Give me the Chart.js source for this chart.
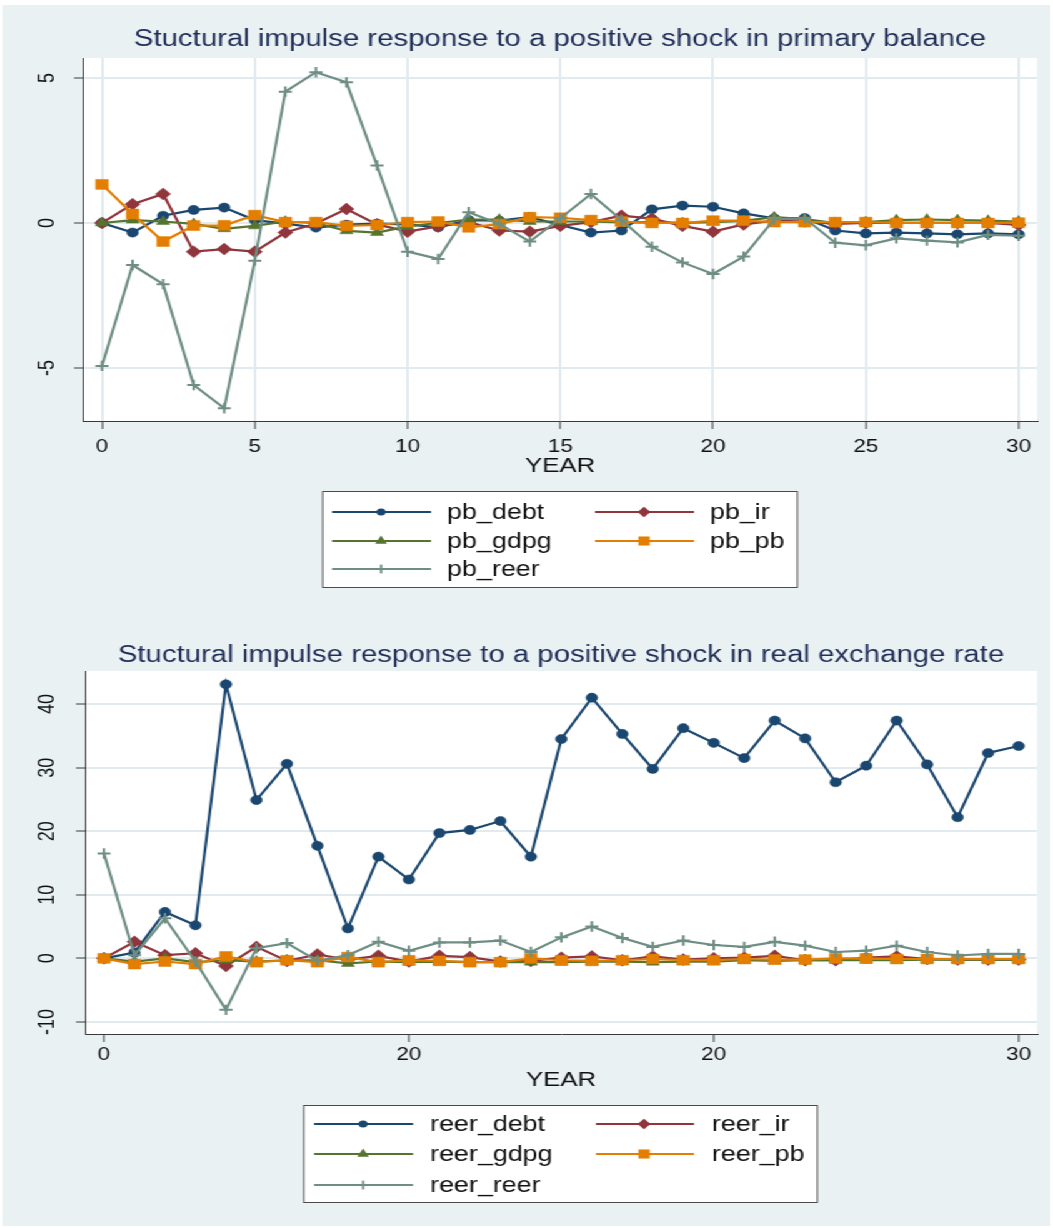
<!DOCTYPE html>
<html>
<head>
<meta charset="utf-8">
<title>Structural impulse responses</title>
<script src="https://cdn.jsdelivr.net/npm/chart.js@4.4.1/dist/chart.umd.min.js"></script>
<style>
  html, body { margin: 0; padding: 0; background: #ffffff; width: 1053px; height: 1228px; overflow: hidden; }
  /* the graphs are laid out on a narrower stage and widened horizontally */
  #stage { position: absolute; left: 0; top: 0; width: 842.4px; height: 1228px; transform: scaleX(1.25); transform-origin: 0 0; }
  #panel { position: absolute; left: 2px; top: 5px; width: 838px; height: 1221px; background: #eaf1f3; }
  canvas { position: absolute; left: 2px; }
  #c1 { top: 5px; }
  #c2 { top: 612px; }
</style>
</head>
<body>
<div id="stage">
  <div id="panel"></div>
  <canvas id="c1" width="838" height="607"></canvas>
  <canvas id="c2" width="838" height="613"></canvas>
</div>
<script>
// ---- data -------------------------------------------------------------
const YEARS = [0,1,2,3,4,5,6,7,8,9,10,11,12,13,14,15,16,17,18,19,20,21,22,23,24,25,26,27,28,29,30];

// responses to a shock in primary balance
const PB_DEBT = [0, -0.33, 0.25, 0.45, 0.53, 0.1, -0.02, -0.16, -0.06, -0.02, -0.05, -0.15, 0.1, 0.08, 0.2, -0.07, -0.33, -0.26, 0.47, 0.6, 0.56, 0.33, 0.16, 0.17, -0.26, -0.36, -0.33, -0.36, -0.39, -0.36, -0.39];
const PB_IR   = [0, 0.65, 1.0, -0.99, -0.9, -0.99, -0.33, -0.02, 0.48, -0.05, -0.3, -0.12, 0.03, -0.26, -0.3, -0.1, 0.03, 0.25, 0.15, -0.1, -0.3, -0.05, 0.08, 0.05, -0.03, 0, 0, 0, 0, 0, -0.07];
const PB_GDPG = [0, 0.1, 0.05, -0.03, -0.2, -0.1, 0.05, 0, -0.27, -0.33, -0.12, 0, 0.12, 0.12, 0.05, 0.05, 0.05, 0.02, 0.03, 0, 0.03, 0.07, 0.2, 0.13, 0, 0.03, 0.1, 0.12, 0.1, 0.08, 0.05];
const PB_PB   = [1.33, 0.31, -0.64, -0.09, -0.08, 0.27, 0.03, 0.03, -0.1, -0.07, 0.03, 0.05, -0.15, -0.04, 0.2, 0.18, 0.1, 0.05, 0, 0, 0.08, 0.08, 0.03, 0.03, 0.03, 0.03, 0, 0, 0, 0, 0.01];
const PB_REER = [-4.93, -1.45, -2.11, -5.59, -6.39, -1.3, 4.53, 5.2, 4.85, 1.98, -0.99, -1.24, 0.37, -0.03, -0.64, 0.16, 1.0, 0.1, -0.82, -1.36, -1.76, -1.16, 0.13, 0.16, -0.68, -0.77, -0.53, -0.61, -0.67, -0.41, -0.44];

// responses to a shock in the real exchange rate
const REER_DEBT = [0, 0.9, 7.3, 5.2, 43.1, 24.9, 30.6, 17.7, 4.7, 16.0, 12.4, 19.7, 20.2, 21.6, 16.0, 34.5, 41.0, 35.3, 29.8, 36.2, 33.9, 31.5, 37.4, 34.6, 27.7, 30.3, 37.4, 30.5, 22.2, 32.3, 33.4];
const REER_IR   = [0, 2.6, 0.5, 0.8, -1.2, 1.8, -0.4, 0.6, -0.2, 0.4, -0.5, 0.4, 0.2, -0.5, -0.4, 0.1, 0.3, -0.3, 0.3, -0.2, 0, 0.1, 0.4, -0.3, -0.3, 0.1, 0.3, -0.1, -0.2, -0.2, -0.2];
const REER_GDPG = [0, -0.5, 0, -0.6, -0.3, -0.5, -0.3, -0.3, -0.8, -0.5, -0.6, -0.5, -0.6, -0.6, -0.6, -0.6, -0.5, -0.5, -0.6, -0.5, -0.5, -0.3, -0.4, -0.3, -0.3, -0.3, -0.3, -0.2, -0.2, -0.2, -0.2];
const REER_PB   = [0, -0.9, -0.5, -0.9, 0.3, -0.6, -0.3, -0.6, 0.2, -0.6, -0.3, -0.4, -0.6, -0.6, 0, -0.3, -0.4, -0.3, -0.1, -0.3, -0.3, -0.1, -0.2, -0.2, 0, 0, -0.1, -0.1, -0.1, -0.1, -0.1];
const REER_REER = [16.5, 0.5, 6.3, -0.5, -8.1, 1.6, 2.4, -0.4, 0.5, 2.6, 1.2, 2.5, 2.5, 2.8, 1.0, 3.3, 5.0, 3.2, 1.8, 2.8, 2.1, 1.8, 2.6, 2.0, 1.0, 1.2, 2.0, 1.0, 0.45, 0.7, 0.7];

const PB_LABELS   = ['pb_debt', 'pb_ir', 'pb_gdpg', 'pb_pb', 'pb_reer'];
const REER_LABELS = ['reer_debt', 'reer_ir', 'reer_gdpg', 'reer_pb', 'reer_reer'];

// axis ticks
const X1_TICKS = [0, 5, 10, 15, 20, 25, 30];
const X1_TICK_LABELS = ['0', '5', '10', '15', '20', '25', '30'];
const Y1_TICKS = [-5, 0, 5];
const X2_TICKS = [0, 10, 20, 30];
const X2_TICK_LABELS = ['0', '20', '20', '30'];
const Y2_TICKS = [-10, 0, 10, 20, 30, 40];

const TITLE1 = 'Stuctural impulse response to a positive shock in primary balance';
const TITLE2 = 'Stuctural impulse response to a positive shock in real exchange rate';
const X_TITLE = 'YEAR';

// ---- styling ------------------------------------------------------------
const FONT = "'Liberation Sans', Arial, Helvetica, sans-serif";
const SERIES_STYLE = [
  { color: '#1a476f', point: 'circle',   r: 4.6, lr: 3.6 },
  { color: '#90353b', point: 'rectRot',  r: 6.0, lr: 5.2 },
  { color: '#55752f', point: 'triangle', r: 6.0, lr: 5.4 },
  { color: '#e37e00', point: 'rect',     r: 7.0, lr: 6.4 },
  { color: '#6e8e84', point: 'cross',    r: 5.2, lr: 4.4 }
];
const GRID = '#e1eaee';
const AXIS = '#3a3a3a';

function buildDatasets(labels, seriesList) {
  return seriesList.map((vals, i) => {
    const st = SERIES_STYLE[i];
    return {
      label: labels[i],
      data: YEARS.map((yr, k) => ({ x: yr, y: vals[k] })),
      borderColor: st.color,
      backgroundColor: st.color,
      borderWidth: 2.2,
      pointStyle: st.point,
      pointRadius: st.r,
      pointBorderWidth: st.point === 'cross' ? 2 : 0.5,
      pointBorderColor: st.color,
      pointBackgroundColor: st.color,
      tension: 0,
      order: seriesList.length - i, // later series sit on top
      clip: false
    };
  });
}

function drawMarker(ctx, style, x, y, r, color) {
  ctx.save();
  ctx.fillStyle = color;
  ctx.strokeStyle = color;
  ctx.beginPath();
  if (style === 'circle') {
    ctx.arc(x, y, r, 0, Math.PI * 2);
    ctx.fill();
  } else if (style === 'rectRot') {
    ctx.moveTo(x, y - r); ctx.lineTo(x + r, y); ctx.lineTo(x, y + r); ctx.lineTo(x - r, y);
    ctx.closePath(); ctx.fill();
  } else if (style === 'triangle') {
    for (let k = 0; k < 3; k++) {
      const a = k * 2 * Math.PI / 3;
      const px = x + Math.sin(a) * r, py = y - Math.cos(a) * r;
      if (k === 0) ctx.moveTo(px, py); else ctx.lineTo(px, py);
    }
    ctx.closePath(); ctx.fill();
  } else if (style === 'rect') {
    const h = r * Math.SQRT1_2;
    ctx.rect(x - h, y - h, 2 * h, 2 * h); ctx.fill();
  } else if (style === 'cross') {
    ctx.lineWidth = 1.8;
    ctx.moveTo(x, y - r); ctx.lineTo(x, y + r);
    ctx.stroke();
  }
  ctx.restore();
}

// white plot region
const plotBackground = {
  id: 'plotBackground',
  beforeDraw(chart) {
    const { ctx, chartArea: a } = chart;
    ctx.save();
    ctx.fillStyle = '#ffffff';
    ctx.fillRect(a.left, a.top, a.right - a.left, a.bottom - a.top);
    ctx.restore();
  }
};

// title, rotated y labels and the boxed legend
function decorations(cfg) {
  return {
    id: 'decorations',
    afterDraw(chart) {
      const { ctx, chartArea: a } = chart;
      ctx.save();
      // title
      ctx.font = `23.5px ${FONT}`;
      ctx.fillStyle = '#1f2d57';
      ctx.textAlign = 'center';
      ctx.textBaseline = 'alphabetic';
      ctx.fillText(cfg.title, (a.left + a.right) / 2, cfg.titleY);

      // y tick labels, turned to read upwards
      const ys = chart.scales.y;
      ctx.font = `18px ${FONT}`;
      ctx.fillStyle = '#111111';
      ys.ticks.forEach(t => {
        const py = ys.getPixelForValue(t.value);
        ctx.save();
        ctx.translate(cfg.yLabelX, py);
        ctx.rotate(-Math.PI / 2);
        ctx.textAlign = 'center';
        ctx.textBaseline = 'middle';
        ctx.fillText(String(t.value), 0, 0);
        ctx.restore();
      });

      // legend
      const L = cfg.legend;
      ctx.fillStyle = '#ffffff';
      ctx.fillRect(L.x0, L.y0, L.x1 - L.x0, L.y1 - L.y0);
      ctx.strokeStyle = '#4a4a4a';
      ctx.lineWidth = 1;
      ctx.strokeRect(L.x0 + 0.5, L.y0 + 0.5, L.x1 - L.x0 - 1, L.y1 - L.y0 - 1);
      ctx.font = `21.5px ${FONT}`;
      ctx.textAlign = 'left';
      ctx.textBaseline = 'middle';
      chart.data.datasets.forEach((ds, i) => {
        const col = L.cols[i % 2];
        const y = L.rows[Math.floor(i / 2)];
        const st = SERIES_STYLE[i];
        ctx.strokeStyle = st.color;
        ctx.lineWidth = 2;
        ctx.beginPath();
        ctx.moveTo(col.lx0, y);
        ctx.lineTo(col.lx1, y);
        ctx.stroke();
        drawMarker(ctx, st.point, col.mx, y, st.lr, st.color);
        ctx.fillStyle = '#111111';
        ctx.fillText(ds.label, col.tx, y + 1);
      });
      ctx.restore();
    }
  };
}

function makeChart(canvasId, opt) {
  return new Chart(document.getElementById(canvasId), {
    type: 'line',
    data: { datasets: buildDatasets(opt.labels, opt.series) },
    options: {
      responsive: false,
      maintainAspectRatio: false,
      devicePixelRatio: 1,
      animation: false,
      events: [],
      layout: { padding: opt.padding },
      plugins: { legend: { display: false }, title: { display: false }, tooltip: { enabled: false } },
      scales: {
        x: {
          type: 'linear',
          min: opt.xMin, max: opt.xMax,
          afterBuildTicks: s => { s.ticks = opt.xTicks.map(v => ({ value: v })); },
          afterFit: s => { s.height = opt.xAxisHeight; },
          ticks: {
            autoSkip: false, maxRotation: 0, minRotation: 0,
            padding: opt.xTickPad,
            color: '#111111',
            font: { family: FONT, size: 18 },
            callback: (v, idx) => opt.xTickLabels[idx]
          },
          grid: {
            display: true,
            drawOnChartArea: opt.xGrid,
            color: GRID, lineWidth: 2,
            drawTicks: true, tickLength: 8, tickColor: AXIS, tickWidth: 1
          },
          border: { display: true, color: AXIS, width: 1 },
          title: {
            display: true, text: X_TITLE, color: '#111111',
            font: { family: FONT, size: 20.6 },
            padding: { top: 0, bottom: opt.xTitlePad }
          }
        },
        y: {
          type: 'linear',
          min: opt.yMin, max: opt.yMax,
          afterBuildTicks: s => { s.ticks = opt.yTicks.map(v => ({ value: v })); },
          afterFit: s => { s.width = opt.yAxisWidth; },
          ticks: { display: false },
          grid: {
            display: true, drawOnChartArea: true,
            color: GRID, lineWidth: 2,
            drawTicks: true, tickLength: 7.2, tickColor: AXIS, tickWidth: 1
          },
          border: { display: true, color: AXIS, width: 1 }
        }
      }
    },
    plugins: [plotBackground, decorations(opt.decor)]
  });
}

makeChart('c1', {
  labels: PB_LABELS,
  series: [PB_DEBT, PB_IR, PB_GDPG, PB_PB, PB_REER],
  padding: { left: 0, right: 10.4, top: 53, bottom: 121 },
  xMin: -0.62, xMax: 30.6, xTicks: X1_TICKS, xTickLabels: X1_TICK_LABELS, xGrid: true,
  xAxisHeight: 70, xTickPad: 7, xTitlePad: 12.6,
  yMin: -6.83, yMax: 5.69, yTicks: Y1_TICKS, yAxisWidth: 64.4,
  decor: {
    title: TITLE1, titleY: 41, yLabelX: 36.4,
    legend: {
      x0: 255.6, x1: 636.4, y0: 486, y1: 583,
      rows: [507, 536, 564],
      cols: [ { lx0: 263.6, lx1: 342.8, mx: 302.8, tx: 355.6 },
              { lx0: 474.0, lx1: 553.2, mx: 513.2, tx: 566.0 } ]
    }
  }
});

makeChart('c2', {
  labels: REER_LABELS,
  series: [REER_DEBT, REER_IR, REER_GDPG, REER_PB, REER_REER],
  padding: { left: 0, right: 10.4, top: 59, bottom: 121 },
  xMin: -0.62, xMax: 30.6, xTicks: X2_TICKS, xTickLabels: X2_TICK_LABELS, xGrid: false,
  xAxisHeight: 70, xTickPad: 2, xTitlePad: 11.6,
  yMin: -11.9, yMax: 45.2, yTicks: Y2_TICKS, yAxisWidth: 66,
  decor: {
    title: TITLE2, titleY: 50, yLabelX: 36.4,
    legend: {
      x0: 240.4, x1: 652.4, y0: 493, y1: 591,
      rows: [512, 542, 573],
      cols: [ { lx0: 249.2, lx1: 328.4, mx: 288.4, tx: 342.0 },
              { lx0: 474.8, lx1: 553.2, mx: 513.2, tx: 567.6 } ]
    }
  }
});
</script>
</body>
</html>
